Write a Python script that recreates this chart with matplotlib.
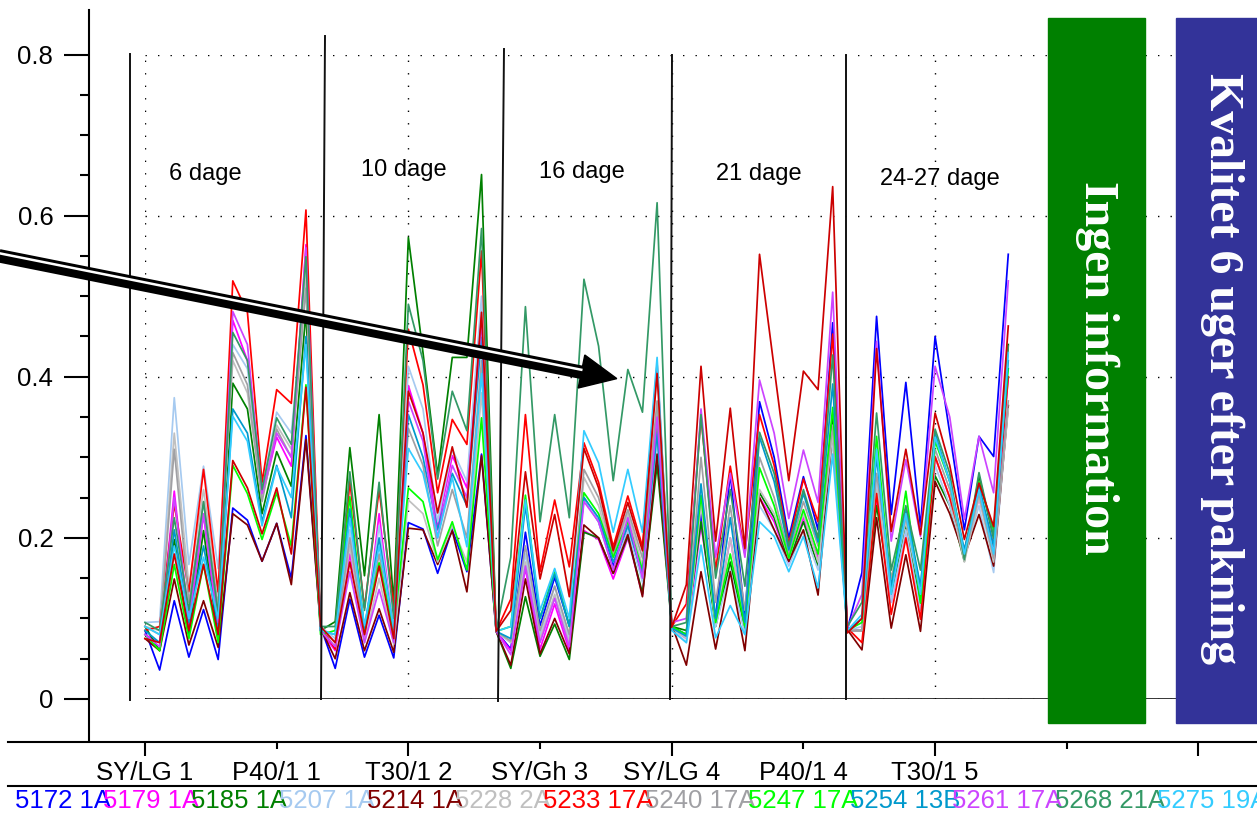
import numpy as np
import matplotlib
matplotlib.use("Agg")
import matplotlib.pyplot as plt
from matplotlib.patches import Rectangle, Polygon
from matplotlib.ticker import MultipleLocator

plt.rcParams['font.family'] = ['Liberation Sans', 'DejaVu Sans']

# ── x-akse: hver 9. måling har en etiket ──
MAJOR_POS = [0, 18, 36, 54, 72]
MAJOR_LABELS = ["SY/LG 1", "T30/1 2", "SY/LG 4", "T30/1 5", ""]
MINOR_POS = [9, 27, 45, 63]
MINOR_LABELS = ["P40/1 1", "SY/Gh 3", "P40/1 4", ""]
GROUPS = ["6 dage", "10 dage", "16 dage", "21 dage", "24-27 dage"]

NAMES = ["5172 1A", "5179 1A", "5185 1A", "5207 1A", "5214 1A", "5228 2A",
         "5233 17A", "5240 17A", "5247 17A", "5254 13B", "5261 17A",
         "5268 21A", "5275 19A", "5282 17A"]
COLORS = ["#0000ff", "#ff00ff", "#008000", "#a6caf0", "#800000", "#c0c0c0",
          "#ff0000", "#a0a0a4", "#00ff00", "#0099cc", "#cc44ff",
          "#339966", "#33ccff", "#cc0000"]

# 60 målinger pr. serie (5 perioder x 12)
s5172 = [0.085, 0.036, 0.122, 0.052, 0.111, 0.049, 0.237, 0.222, 0.171, 0.218, 0.150, 0.327,
         0.090, 0.038, 0.124, 0.052, 0.104, 0.051, 0.219, 0.211, 0.156, 0.211, 0.158, 0.304,
         0.084, 0.062, 0.207, 0.091, 0.151, 0.091, 0.250, 0.220, 0.165, 0.210, 0.150, 0.330,
         0.090, 0.080, 0.230, 0.100, 0.280, 0.100, 0.369, 0.300, 0.200, 0.276, 0.210, 0.467,
         0.086, 0.157, 0.475, 0.229, 0.393, 0.214, 0.450, 0.330, 0.210, 0.326, 0.301, 0.552]
s5179 = [0.080, 0.070, 0.258, 0.090, 0.229, 0.085, 0.470, 0.420, 0.250, 0.325, 0.289, 0.564,
         0.085, 0.060, 0.180, 0.075, 0.230, 0.080, 0.389, 0.330, 0.213, 0.302, 0.262, 0.480,
         0.084, 0.060, 0.162, 0.062, 0.118, 0.060, 0.209, 0.198, 0.149, 0.200, 0.129, 0.340,
         0.088, 0.075, 0.216, 0.095, 0.200, 0.090, 0.250, 0.220, 0.170, 0.225, 0.175, 0.350,
         0.085, 0.085, 0.250, 0.120, 0.210, 0.110, 0.300, 0.250, 0.180, 0.250, 0.180, 0.400]
s5185 = [0.090, 0.060, 0.198, 0.080, 0.209, 0.075, 0.392, 0.360, 0.230, 0.307, 0.264, 0.480,
         0.085, 0.096, 0.312, 0.153, 0.353, 0.120, 0.573, 0.430, 0.278, 0.424, 0.424, 0.651,
         0.084, 0.038, 0.127, 0.053, 0.093, 0.049, 0.207, 0.200, 0.156, 0.202, 0.131, 0.291,
         0.090, 0.085, 0.220, 0.090, 0.170, 0.085, 0.256, 0.225, 0.171, 0.220, 0.165, 0.349,
         0.085, 0.085, 0.240, 0.130, 0.215, 0.120, 0.277, 0.240, 0.171, 0.277, 0.200, 0.440]
s5207 = [0.095, 0.096, 0.374, 0.167, 0.289, 0.162, 0.440, 0.410, 0.260, 0.356, 0.330, 0.520,
         0.090, 0.075, 0.210, 0.085, 0.215, 0.085, 0.413, 0.360, 0.220, 0.310, 0.270, 0.500,
         0.084, 0.070, 0.180, 0.080, 0.140, 0.075, 0.250, 0.220, 0.160, 0.210, 0.145, 0.320,
         0.088, 0.070, 0.250, 0.090, 0.160, 0.080, 0.240, 0.210, 0.165, 0.210, 0.160, 0.320,
         0.085, 0.090, 0.270, 0.120, 0.210, 0.110, 0.290, 0.240, 0.175, 0.240, 0.157, 0.365]
s5214 = [0.075, 0.060, 0.149, 0.067, 0.122, 0.064, 0.230, 0.216, 0.171, 0.218, 0.142, 0.322,
         0.088, 0.050, 0.132, 0.060, 0.112, 0.058, 0.212, 0.210, 0.167, 0.209, 0.133, 0.302,
         0.084, 0.042, 0.149, 0.056, 0.100, 0.056, 0.216, 0.200, 0.156, 0.204, 0.127, 0.304,
         0.092, 0.042, 0.158, 0.062, 0.158, 0.060, 0.250, 0.210, 0.171, 0.210, 0.129, 0.336,
         0.086, 0.061, 0.225, 0.088, 0.179, 0.084, 0.270, 0.230, 0.177, 0.229, 0.165, 0.364]
s5228 = [0.090, 0.085, 0.330, 0.140, 0.260, 0.130, 0.420, 0.380, 0.250, 0.340, 0.310, 0.530,
         0.085, 0.065, 0.190, 0.070, 0.150, 0.068, 0.247, 0.230, 0.170, 0.215, 0.170, 0.380,
         0.084, 0.070, 0.170, 0.075, 0.130, 0.070, 0.275, 0.240, 0.175, 0.230, 0.165, 0.360,
         0.088, 0.075, 0.240, 0.095, 0.200, 0.090, 0.260, 0.230, 0.175, 0.230, 0.170, 0.330,
         0.085, 0.085, 0.260, 0.140, 0.220, 0.130, 0.300, 0.250, 0.170, 0.250, 0.170, 0.360]
s5233 = [0.085, 0.090, 0.242, 0.133, 0.285, 0.133, 0.519, 0.480, 0.269, 0.384, 0.367, 0.607,
         0.090, 0.062, 0.270, 0.113, 0.260, 0.114, 0.459, 0.390, 0.256, 0.347, 0.316, 0.556,
         0.084, 0.124, 0.353, 0.158, 0.247, 0.164, 0.318, 0.269, 0.189, 0.252, 0.189, 0.416,
         0.090, 0.118, 0.351, 0.160, 0.289, 0.180, 0.353, 0.290, 0.193, 0.273, 0.220, 0.453,
         0.088, 0.070, 0.255, 0.105, 0.200, 0.099, 0.301, 0.250, 0.185, 0.260, 0.190, 0.400]
s5240 = [0.090, 0.080, 0.310, 0.120, 0.245, 0.115, 0.430, 0.390, 0.245, 0.335, 0.300, 0.510,
         0.088, 0.070, 0.200, 0.080, 0.180, 0.075, 0.336, 0.290, 0.190, 0.260, 0.200, 0.420,
         0.084, 0.072, 0.190, 0.085, 0.140, 0.080, 0.285, 0.250, 0.180, 0.235, 0.175, 0.370,
         0.088, 0.080, 0.300, 0.120, 0.240, 0.110, 0.300, 0.250, 0.180, 0.245, 0.190, 0.340,
         0.085, 0.085, 0.280, 0.150, 0.225, 0.140, 0.310, 0.260, 0.175, 0.255, 0.175, 0.370]
s5247 = [0.080, 0.060, 0.167, 0.075, 0.167, 0.070, 0.290, 0.255, 0.198, 0.256, 0.190, 0.390,
         0.080, 0.085, 0.251, 0.085, 0.169, 0.082, 0.262, 0.245, 0.173, 0.220, 0.160, 0.349,
         0.084, 0.090, 0.253, 0.100, 0.160, 0.090, 0.256, 0.230, 0.176, 0.220, 0.160, 0.336,
         0.090, 0.080, 0.253, 0.095, 0.180, 0.090, 0.287, 0.240, 0.175, 0.235, 0.180, 0.362,
         0.085, 0.095, 0.326, 0.136, 0.258, 0.119, 0.320, 0.270, 0.180, 0.270, 0.210, 0.410]
s5254 = [0.085, 0.070, 0.210, 0.095, 0.190, 0.090, 0.360, 0.330, 0.220, 0.290, 0.225, 0.450,
         0.085, 0.080, 0.236, 0.088, 0.200, 0.085, 0.353, 0.300, 0.210, 0.280, 0.240, 0.449,
         0.084, 0.075, 0.240, 0.100, 0.155, 0.090, 0.250, 0.225, 0.170, 0.215, 0.155, 0.330,
         0.088, 0.078, 0.267, 0.100, 0.225, 0.095, 0.325, 0.270, 0.185, 0.255, 0.195, 0.391,
         0.085, 0.100, 0.300, 0.140, 0.235, 0.140, 0.330, 0.270, 0.185, 0.265, 0.190, 0.420]
s5261 = [0.080, 0.065, 0.250, 0.100, 0.230, 0.095, 0.481, 0.440, 0.255, 0.330, 0.300, 0.560,
         0.085, 0.065, 0.158, 0.070, 0.136, 0.070, 0.370, 0.320, 0.200, 0.290, 0.250, 0.470,
         0.084, 0.055, 0.165, 0.070, 0.125, 0.065, 0.245, 0.220, 0.160, 0.225, 0.150, 0.350,
         0.095, 0.100, 0.360, 0.176, 0.280, 0.176, 0.396, 0.330, 0.224, 0.309, 0.244, 0.505,
         0.088, 0.130, 0.444, 0.196, 0.297, 0.202, 0.413, 0.350, 0.223, 0.326, 0.256, 0.519]
s5268 = [0.095, 0.085, 0.225, 0.110, 0.245, 0.105, 0.455, 0.420, 0.260, 0.349, 0.316, 0.549,
         0.090, 0.090, 0.282, 0.110, 0.269, 0.100, 0.490, 0.420, 0.273, 0.382, 0.333, 0.584,
         0.084, 0.176, 0.487, 0.220, 0.353, 0.225, 0.521, 0.438, 0.271, 0.409, 0.356, 0.616,
         0.090, 0.095, 0.353, 0.150, 0.260, 0.140, 0.331, 0.280, 0.190, 0.260, 0.200, 0.427,
         0.090, 0.120, 0.355, 0.160, 0.240, 0.160, 0.335, 0.280, 0.173, 0.281, 0.200, 0.438]
s5275 = [0.090, 0.080, 0.190, 0.100, 0.176, 0.100, 0.351, 0.320, 0.215, 0.288, 0.250, 0.440,
         0.085, 0.080, 0.224, 0.091, 0.190, 0.088, 0.311, 0.280, 0.200, 0.275, 0.189, 0.404,
         0.084, 0.090, 0.247, 0.110, 0.162, 0.100, 0.333, 0.293, 0.207, 0.285, 0.207, 0.424,
         0.085, 0.070, 0.191, 0.076, 0.116, 0.080, 0.220, 0.202, 0.158, 0.202, 0.138, 0.304,
         0.085, 0.105, 0.310, 0.130, 0.230, 0.130, 0.325, 0.270, 0.180, 0.260, 0.180, 0.430]
s5282 = [0.075, 0.070, 0.180, 0.085, 0.167, 0.080, 0.296, 0.262, 0.205, 0.262, 0.180, 0.387,
         0.090, 0.070, 0.170, 0.080, 0.165, 0.075, 0.382, 0.330, 0.231, 0.313, 0.238, 0.480,
         0.084, 0.110, 0.282, 0.149, 0.229, 0.127, 0.311, 0.262, 0.184, 0.244, 0.184, 0.404,
         0.089, 0.142, 0.413, 0.196, 0.361, 0.187, 0.552, 0.411, 0.271, 0.407, 0.384, 0.636,
         0.082, 0.100, 0.435, 0.208, 0.310, 0.204, 0.355, 0.290, 0.198, 0.268, 0.214, 0.463]

SERIES = [s5172, s5179, s5185, s5207, s5214, s5228, s5233, s5240,
          s5247, s5254, s5261, s5268, s5275, s5282]

W, H = 1257, 814
fig = plt.figure(figsize=(W / 100, H / 100), dpi=100)

# ──────────────────────────────────────────────
# hovedakse
# ──────────────────────────────────────────────
ax = fig.add_axes([145 / W, 115 / H, 1112 / W, 644.5 / H])
x = np.arange(len(s5172))
for vals, col in zip(SERIES, COLORS):
    ax.plot(x, vals, color=col, lw=1.25, clip_on=False)

ax.set_xlim(0, 76.0)
ax.set_ylim(0, 0.8)
ax.axhline(0, color="black", lw=1.1)

for s in ["top", "right"]:
    ax.spines[s].set_visible(False)
ax.spines["left"].set_position(("outward", 40))
ax.spines["bottom"].set_position(("outward", 30.6))
ax.spines["left"].set_bounds(-0.052, 0.855)
ax.spines["bottom"].set_bounds(-9.36, 76)
ax.spines["left"].set_linewidth(1.5)
ax.spines["bottom"].set_linewidth(1.5)

ax.set_yticks([0, 0.2, 0.4, 0.6, 0.8], ["0", "0.2", "0.4", "0.6", "0.8"])
ax.yaxis.set_minor_locator(MultipleLocator(0.05))
ax.set_xticks(MAJOR_POS, MAJOR_LABELS)
ax.set_xticks(MINOR_POS, MINOR_LABELS, minor=True)
ax.tick_params(axis="y", which="major", length=18, width=1.5, pad=8, labelsize=18.5)
ax.tick_params(axis="y", which="minor", length=6.5, width=1.5)
ax.tick_params(axis="x", which="major", length=10, width=1.5, pad=4, labelsize=18.5)
ax.tick_params(axis="x", which="minor", length=5, width=1.5, pad=9, labelsize=18.5)
ax.grid(True, which="major", color="black", linestyle=(0, (1, 8)), linewidth=1)

# ──────────────────────────────────────────────
# overlay i pixel-koordinater (pile, bokse, etiketter)
# ──────────────────────────────────────────────
ov = fig.add_axes([0, 0, 1, 1], zorder=5)
ov.set_xlim(0, W)
ov.set_ylim(H, 0)
ov.axis("off")

sep_x = [(130, 130), (325, 321), (504, 498), (672, 670), (846, 846)]
sep_y = [(54, 700), (36, 699), (49, 701), (55, 699), (55, 699)]
for sx, sy in zip(sep_x, sep_y):
    ov.plot(sx, sy, color="#111111", lw=1.4)

grp_xy = [(205, 174), (404, 170), (582, 172), (759, 174), (940, 179)]
for g, (gx, gy) in zip(GROUPS, grp_xy):
    ov.text(gx, gy, g, fontsize=17, ha="center", va="center")

# pil
ov.plot([-10, 582], [254, 372.4], color="black", lw=9.7, solid_capstyle="butt")
ov.plot([-9.5, 582.5], [251.5, 370.0], color="white", lw=1.8, solid_capstyle="butt")
ov.add_patch(Polygon([(584.8, 355), (578.2, 388), (616.8, 378.6)], closed=True,
                     color="black"))

# bokse
ov.add_patch(Rectangle((1048, 18), 97, 705, color="#008000", zorder=3))
ov.add_patch(Rectangle((1176, 18), 100, 705, color="#333399", zorder=3))
ov.text(1097, 368, "Ingen information", rotation=270, color="white", fontsize=34.5,
        fontweight="bold", family="Liberation Serif", ha="center", va="center", zorder=4)
ov.text(1222, 369, "Kvalitet 6 uger efter pakning", rotation=270, color="white",
        fontsize=34.5, fontweight="bold", family="Liberation Serif",
        ha="center", va="center", zorder=4)

# legende-række
ov.plot([8, W], [786, 786], color="black", lw=1.5)
renderer = fig.canvas.get_renderer()
lx = 15
for name, col in zip(NAMES, COLORS):
    if lx >= W:
        break
    t = ov.text(lx, 813.5, name, color=col, fontsize=18.5, ha="left", va="bottom")
    lx = t.get_window_extent(renderer).x1 - 8

fig.savefig("out.png", dpi=100)
